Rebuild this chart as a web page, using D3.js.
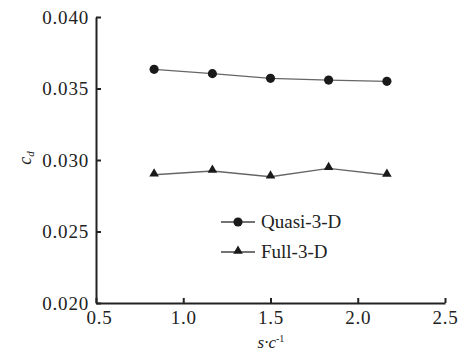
<!DOCTYPE html>
<html>
<head>
<meta charset="utf-8">
<script src="https://cdn.jsdelivr.net/npm/d3@7"></script>
</head>
<body style="margin:0;background:#fff">
<svg id="viz"></svg>
<script>
const width = 469, height = 351;
const serif = "Liberation Serif";

// values
const spanRatio = [0.833, 1.167, 1.5, 1.833, 2.167];
const quasi3D = [0.03634, 0.03604, 0.03571, 0.03559, 0.0355];
const full3D = [0.02897, 0.02923, 0.02883, 0.02942, 0.02895];
const xTicks = [0.5, 1.0, 1.5, 2.0, 2.5];
const yTicks = [0.020, 0.025, 0.030, 0.035, 0.040];
const seriesNames = ["Quasi-3-D", "Full-3-D"];

const svg = d3.select("#viz")
  .attr("width", width)
  .attr("height", height)
  .attr("font-family", serif);

const x = d3.scaleLinear().domain([0.5, 2.5]).range([96, 445]);
const y = d3.scaleLinear().domain([0.020, 0.040]).range([303, 17]);

// axes, ticks point inward
const xAxis = svg.append("g")
  .attr("transform", "translate(0," + y(0.020) + ")")
  .call(d3.axisBottom(x).tickValues(xTicks).tickSizeInner(-5).tickSizeOuter(0)
    .tickFormat(d3.format(".1f")));
const yAxis = svg.append("g")
  .attr("transform", "translate(" + x(0.5) + ",0)")
  .call(d3.axisLeft(y).tickValues(yTicks).tickSizeInner(-5).tickSizeOuter(0)
    .tickFormat(d3.format(".3f")));

[xAxis, yAxis].forEach(g => {
  g.attr("font-family", serif).attr("font-size", 19);
  g.select(".domain").attr("stroke", "#222").attr("stroke-width", 2);
  g.selectAll(".tick line").attr("stroke", "#222").attr("stroke-width", 2);
  g.selectAll(".tick text")
    .attr("font-family", serif)
    .attr("font-size", 19)
    .attr("letter-spacing", 0.8)
    .attr("fill", "#222");
});
xAxis.selectAll(".tick text").attr("y", 8);
yAxis.selectAll(".tick text").attr("x", -7);
// first x label sits a little right of the corner
xAxis.selectAll(".tick").filter(d => d === 0.5).select("text").attr("dx", 3);

// axis titles
svg.append("text")
  .attr("transform", "translate(31,158) rotate(-90)")
  .attr("text-anchor", "middle")
  .attr("font-family", serif)
  .attr("font-size", 18)
  .attr("font-style", "italic")
  .attr("fill", "#222")
  .html("c<tspan font-size='11' dy='3'>d</tspan>");

svg.append("text")
  .attr("x", 271).attr("y", 348)
  .attr("text-anchor", "middle")
  .attr("font-family", serif)
  .attr("font-size", 17)
  .attr("font-style", "italic")
  .attr("fill", "#222")
  .html("s·c<tspan font-size='10' dy='-6' font-style='normal'>-1</tspan>");

const line = d3.line().x(d => x(d[0])).y(d => y(d[1]));
const qData = d3.zip(spanRatio, quasi3D);
const fData = d3.zip(spanRatio, full3D);

svg.append("path").datum(qData).attr("d", line)
  .attr("fill", "none").attr("stroke", "#666").attr("stroke-width", 1.3);
svg.append("path").datum(fData).attr("d", line)
  .attr("fill", "none").attr("stroke", "#666").attr("stroke-width", 1.3);

const circle = d3.symbol().type(d3.symbolCircle).size(66);
const tri = d3.symbol().type(d3.symbolTriangle).size(40);

svg.selectAll(".qpt").data(qData).enter().append("path")
  .attr("class", "qpt")
  .attr("d", circle)
  .attr("transform", d => "translate(" + x(d[0]) + "," + y(d[1]) + ")")
  .attr("fill", "#1a1a1a");
svg.selectAll(".fpt").data(fData).enter().append("path")
  .attr("class", "fpt")
  .attr("d", tri)
  .attr("transform", d => "translate(" + x(d[0]) + "," + (y(d[1]) - 1) + ")")
  .attr("fill", "#1a1a1a");

// legend
const legend = svg.append("g").attr("transform", "translate(221,222)");
seriesNames.forEach((name, i) => {
  const g = legend.append("g").attr("transform", "translate(0," + i * 30 + ")");
  g.append("line").attr("x1", 0).attr("x2", 34).attr("y1", 0).attr("y2", 0)
    .attr("stroke", "#444").attr("stroke-width", 1.3);
  g.append("path").attr("d", i === 0 ? circle : tri)
    .attr("transform", "translate(17," + (i === 0 ? 0 : -1) + ")")
    .attr("fill", "#1a1a1a");
  g.append("text").attr("x", 40).attr("y", 6)
    .attr("font-family", serif)
    .attr("font-size", 19)
    .attr("fill", "#222")
    .text(name);
});
</script>
</body>
</html>
